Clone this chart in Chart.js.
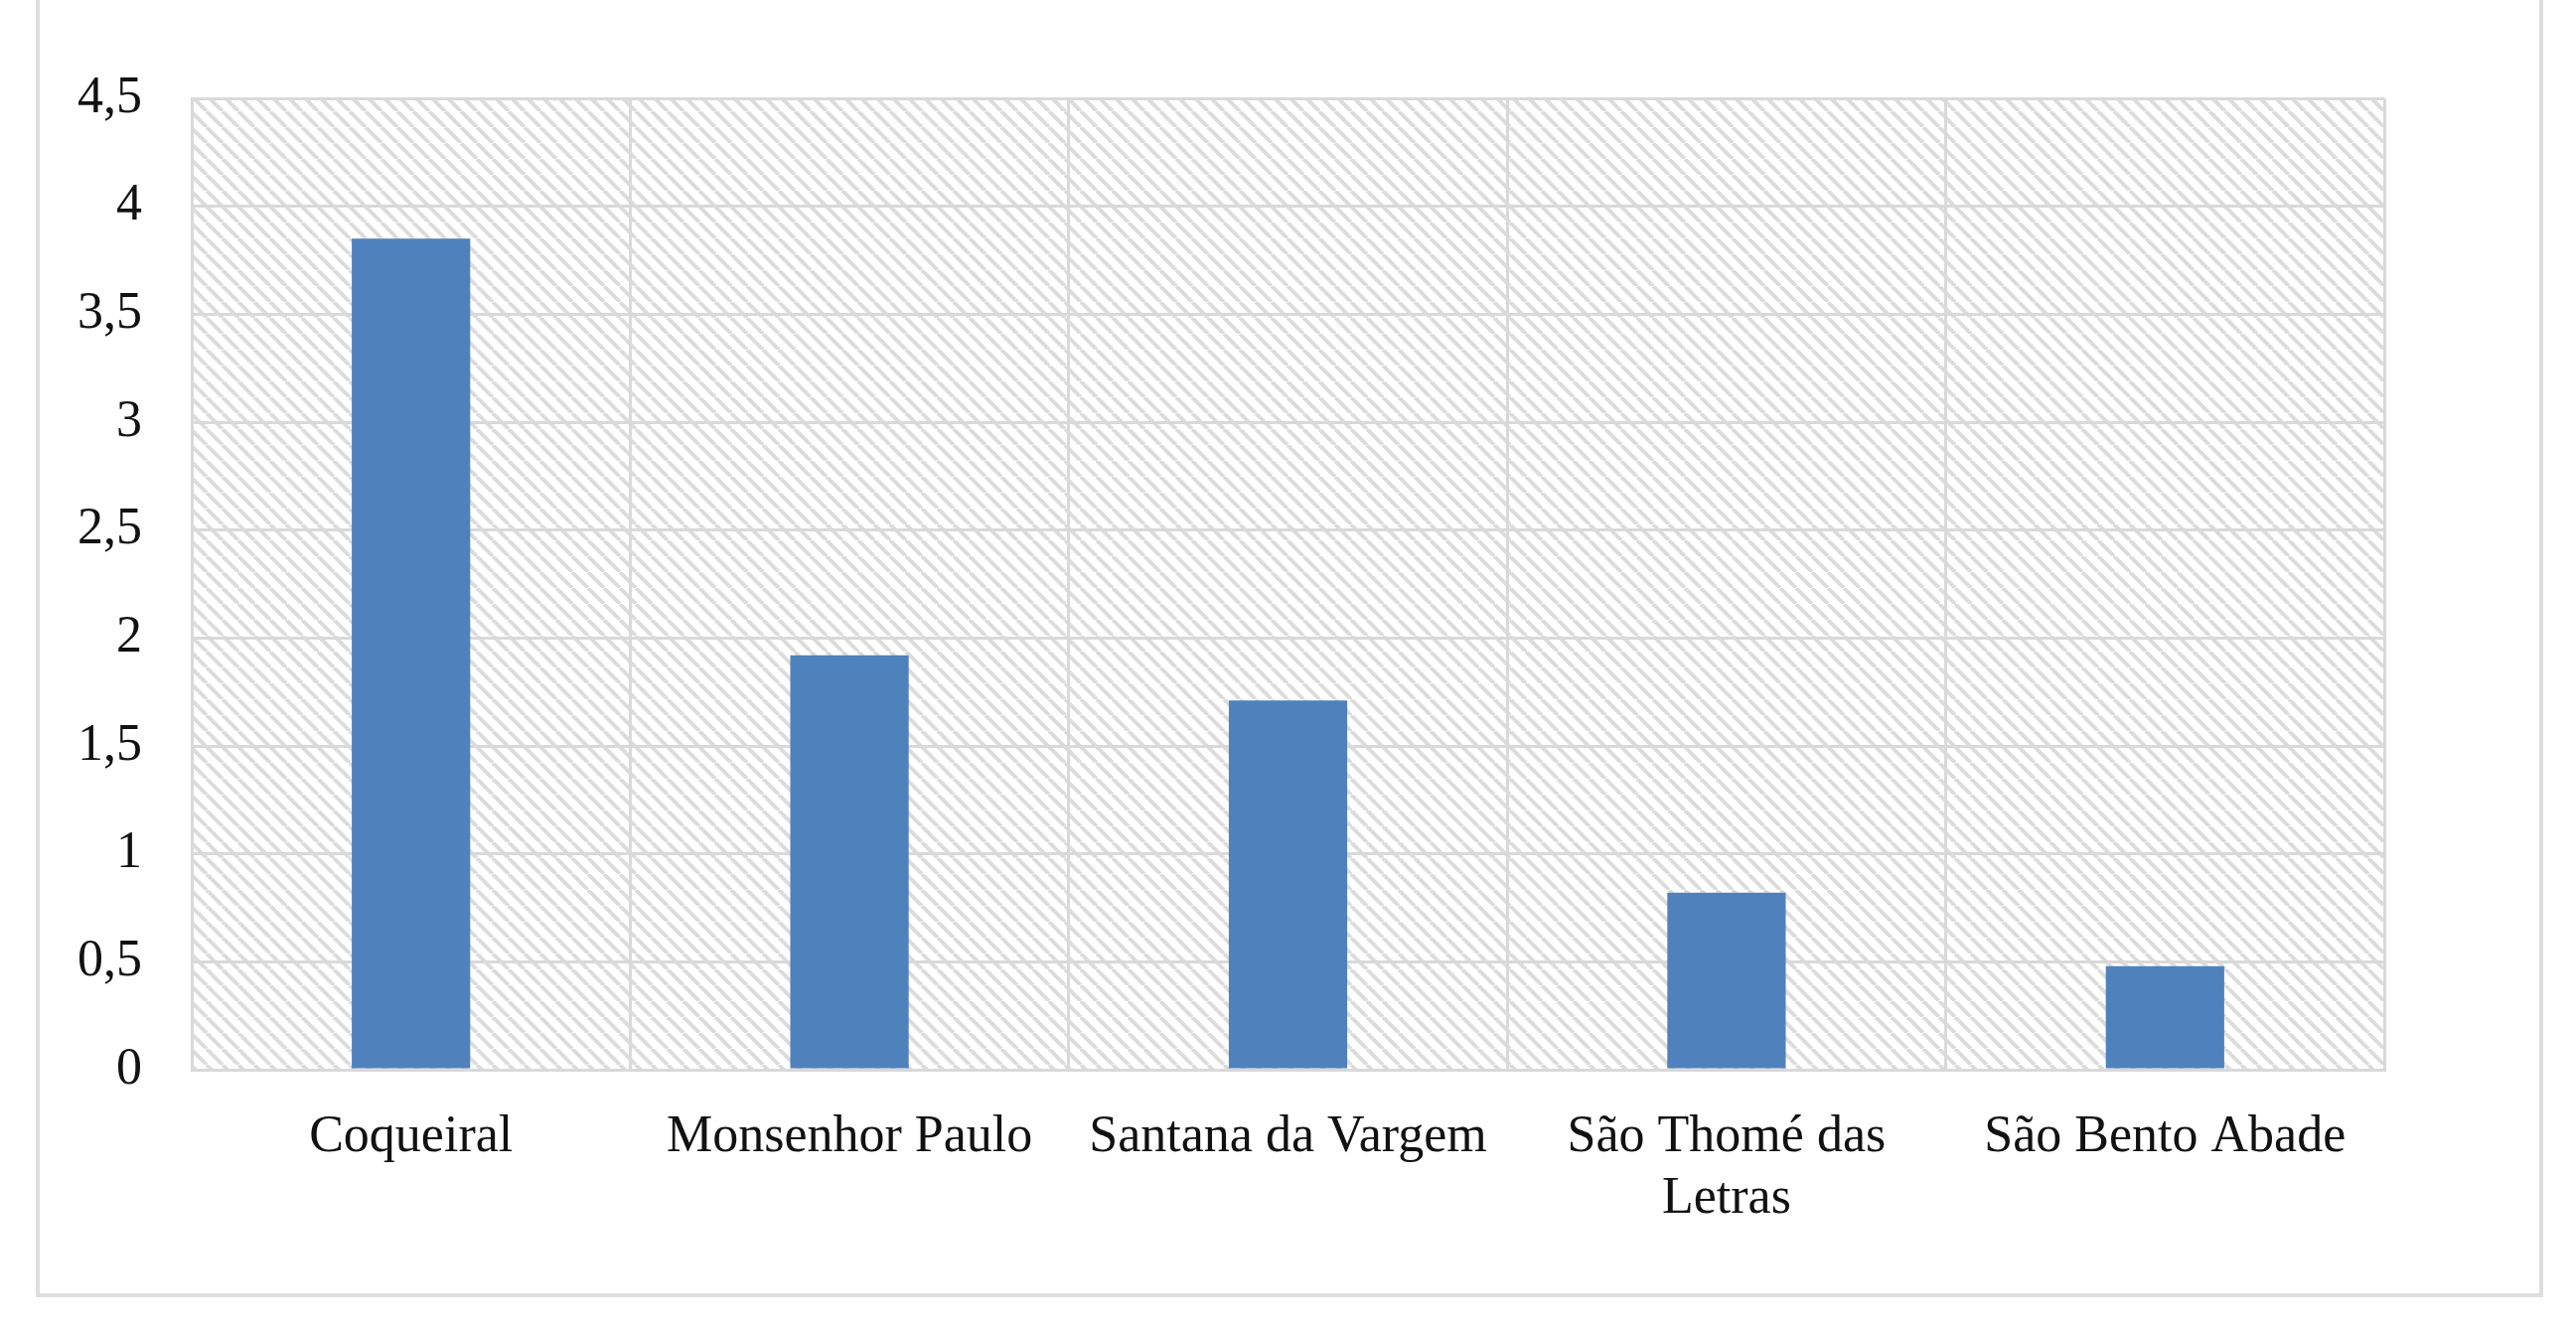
<!DOCTYPE html>
<html>
<head>
<meta charset="utf-8">
<script src="https://cdn.jsdelivr.net/npm/chart.js@4.4.1/dist/chart.umd.min.js"></script>
<style>
  html, body { margin: 0; padding: 0; background: #fff; overflow: hidden; }
  #frame {
    position: absolute; left: 36px; top: -20px; width: 2524px; height: 1326px;
    border: 4px solid #dedede; box-sizing: border-box;
  }
  #wrap { position: absolute; left: 0; top: 0; width: 2593px; height: 1334px; }
</style>
</head>
<body>
<div id="frame"></div>
<div id="wrap"><canvas id="chart" width="2593" height="1334"></canvas></div>
<script>
// chart data
const categories = ['Coqueiral', 'Monsenhor Paulo', 'Santana da Vargem', ['São Thomé das', 'Letras'], 'São Bento Abade'];
const values = [3.85, 1.92, 1.71, 0.82, 0.48];
const yTicks = [0, 0.5, 1, 1.5, 2, 2.5, 3, 3.5, 4, 4.5];

// diagonal hatch for the plot area
function makeHatch() {
    const s = 16;
    const tile = document.createElement('canvas');
    tile.width = s;
    tile.height = s;
    const c = tile.getContext('2d');
    c.strokeStyle = '#dcdcdc';
    c.lineWidth = 4;
    for (const k of [-s, 0, s]) {
        c.beginPath();
        c.moveTo(k, 0);
        c.lineTo(k + s, s);
        c.stroke();
    }
    return c.createPattern(tile, 'repeat');
}

const hatchPlugin = {
    id: 'hatch',
    beforeDraw(chart) {
        const { ctx, chartArea } = chart;
        ctx.save();
        ctx.fillStyle = makeHatch();
        ctx.fillRect(chartArea.left, chartArea.top, chartArea.right - chartArea.left, chartArea.bottom - chartArea.top);
        ctx.restore();
    }
};

const fontFamily = '"Liberation Serif", "Times New Roman", serif';

new Chart(document.getElementById('chart').getContext('2d'), {
    type: 'bar',
    data: {
        labels: categories,
        datasets: [{
            data: values,
            backgroundColor: '#4f81bd',
            barPercentage: 0.27,
            categoryPercentage: 1
        }]
    },
    options: {
        responsive: false,
        animation: false,
        layout: { padding: { left: 0, right: 193, top: 99, bottom: 0 } },
        plugins: {
            legend: { display: false },
            tooltip: { enabled: false }
        },
        scales: {
            x: {
                grid: { color: '#d9d9d9', lineWidth: 3, drawTicks: false },
                border: { color: '#d9d9d9', width: 3 },
                ticks: {
                    color: '#111',
                    font: { family: fontFamily, size: 52 },
                    padding: 37,
                    maxRotation: 0,
                    autoSkip: false
                },
                afterFit(scale) { scale.height = 1334 - 1077; }
            },
            y: {
                min: 0,
                max: 4.5,
                afterBuildTicks(scale) { scale.ticks = yTicks.map(v => ({ value: v })); },
                grid: { color: '#d9d9d9', lineWidth: 3, drawTicks: false },
                border: { color: '#d9d9d9', width: 3 },
                ticks: {
                    color: '#111',
                    font: { family: fontFamily, size: 52 },
                    padding: 50,
                    callback: v => String(v).replace('.', ',')
                },
                afterFit(scale) { scale.width = 193; }
            }
        }
    },
    plugins: [hatchPlugin]
});
</script>
</body>
</html>
